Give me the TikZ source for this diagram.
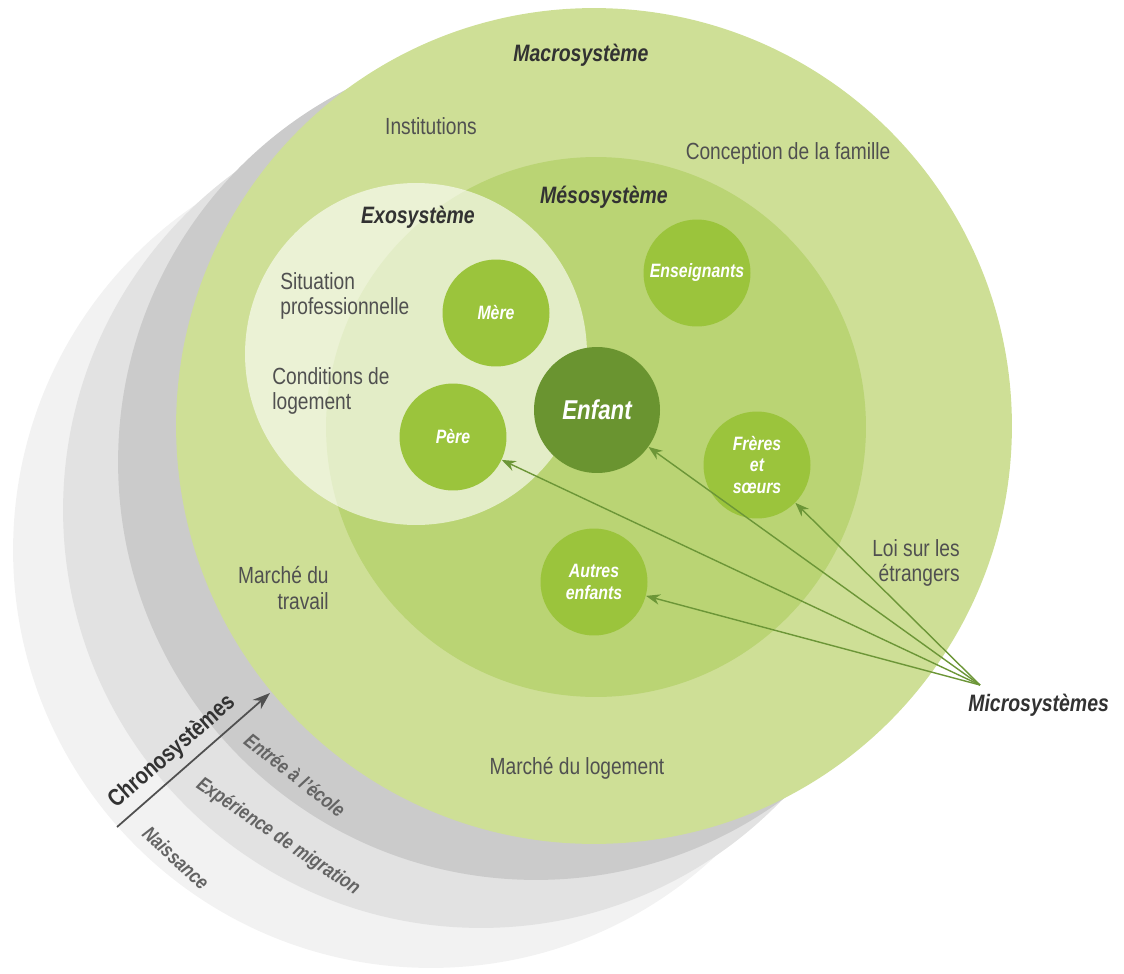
\documentclass[tikz,border=0pt]{standalone}
\usepackage{fontspec}
\setmainfont{Liberation Sans}[FakeStretch=0.82]
\usetikzlibrary{positioning, arrows.meta}

\definecolor{macrogreen}{RGB}{206,223,150}
\definecolor{mesogreen}{RGB}{186,212,116}
\definecolor{microgreen}{RGB}{155,196,60}
\definecolor{childgreen}{RGB}{106,148,48}
\definecolor{graydark}{RGB}{203,203,203}
\definecolor{graymid}{RGB}{226,226,226}
\definecolor{graylight}{RGB}{242,242,242}
\definecolor{txtgray}{RGB}{80,80,80}
\definecolor{titlegray}{RGB}{50,50,50}
\definecolor{bandgray}{RGB}{100,100,100}
\definecolor{arrowgreen}{RGB}{108,150,55}

\begin{document}
\begin{tikzpicture}[x=0.02cm, y=-0.02cm,
    layer/.style={circle, inner sep=0pt, minimum size=#1},
    micro/.style={circle, fill=microgreen, inner sep=0pt, minimum size=2.14cm, text=white, align=center,
        font=\fontsize{11}{12.2}\selectfont\bfseries\itshape},
    body/.style={text=txtgray, font=\fontsize{13.3}{14.5}\selectfont, inner sep=0pt},
    systitle/.style={text=titlegray, font=\fontsize{13.5}{15}\selectfont\bfseries\itshape, inner sep=0pt},
    band/.style={text=bandgray, font=\fontsize{11.5}{13}\selectfont\bfseries\itshape, inner sep=0pt},
    link/.style={arrowgreen, line width=0.8pt, -{Stealth[length=8pt, width=6pt]}}]
    \useasboundingbox (0,0) rectangle (1124,973);

    % Chronosystem layers behind the macrosystem
    \node[layer=16.72cm, fill=graylight] (naissance) at (431,550) {};
    \node[layer=16.72cm, fill=graymid] (migration) at (481,510) {};
    \node[layer=16.72cm, fill=graydark] (ecole) at (536,462) {};

    % Nested systems
    \node[layer=16.72cm, fill=macrogreen] (macro) at (594,426) {};
    \node[layer=10.8cm, fill=mesogreen] (meso) at (596,427) {};
    \node[layer=6.84cm, fill=white, fill opacity=0.6] (exo) at (416,354) {};

    % Microsystems
    \node[micro] (mere) at (496,313) {Mère};
    \node[micro] (pere) at (453,437) {Père};
    \node[micro, fill=childgreen, minimum size=2.52cm, font=\fontsize{15.5}{17}\selectfont\bfseries\itshape] (enfant) at (597,410) {Enfant};
    \node[micro] (enseignants) at (697,273) {Enseignants};
    \node[micro] (freres) at (757,465) {Frères\\et\\sœurs};
    \node[micro] (autres) at (594,582) {Autres\\enfants};

    % Arrows from the microsystem label
    \coordinate (microtip) at (980,685);
    \foreach \target in {pere, enfant, freres, autres} {
        \draw[link] (microtip) -- (\target);
    }

    % System labels
    \node[systitle] (macrolabel) at (581,55) {Macrosystème};
    \node[systitle] (mesolabel) at (604,197) {Mésosystème};
    \node[systitle] (exolabel) at (418,217) {Exosystème};
    \node[systitle, anchor=west] (microlabel) at (968,705) {Microsystèmes};

    % Context labels
    \node[body] (institutions) at (431,126) {Institutions};
    \node[body] (conception) at (788,153) {Conception de la famille};
    \node[body, align=left, anchor=west] (situation) at (280,296) {Situation\\professionnelle};
    \node[body, align=left, anchor=west] (conditions) at (272,391) {Conditions de\\logement};
    \node[body, align=right, anchor=east] (travail) at (329,588) {Marché du\\travail};
    \node[body, align=right, anchor=east] (loi) at (960,563) {Loi sur les\\étrangers};
    \node[body] (logement) at (577,768) {Marché du logement};

    % Chronosystem arrow and band labels
    \coordinate (chronostart) at (117,827);
    \coordinate (chronoend) at (270,693);
    \draw[bandgray!80!black, line width=1pt, -{Stealth[length=10pt, width=7pt]}] (chronostart) -- (chronoend);
    \node[text=titlegray, font=\fontsize{13.6}{15}\selectfont\bfseries, inner sep=0pt, rotate=41] (chronolabel) at (172,752) {Chronosystèmes};
    \node[band, rotate=-38] (ecolelabel) at (295,775) {Entrée à l’école};
    \node[band, rotate=-34] (migrationlabel) at (278,837) {Expérience de migration};
    \node[band, rotate=-43] (naissancelabel) at (176,858) {Naissance};
\end{tikzpicture}
\end{document}
